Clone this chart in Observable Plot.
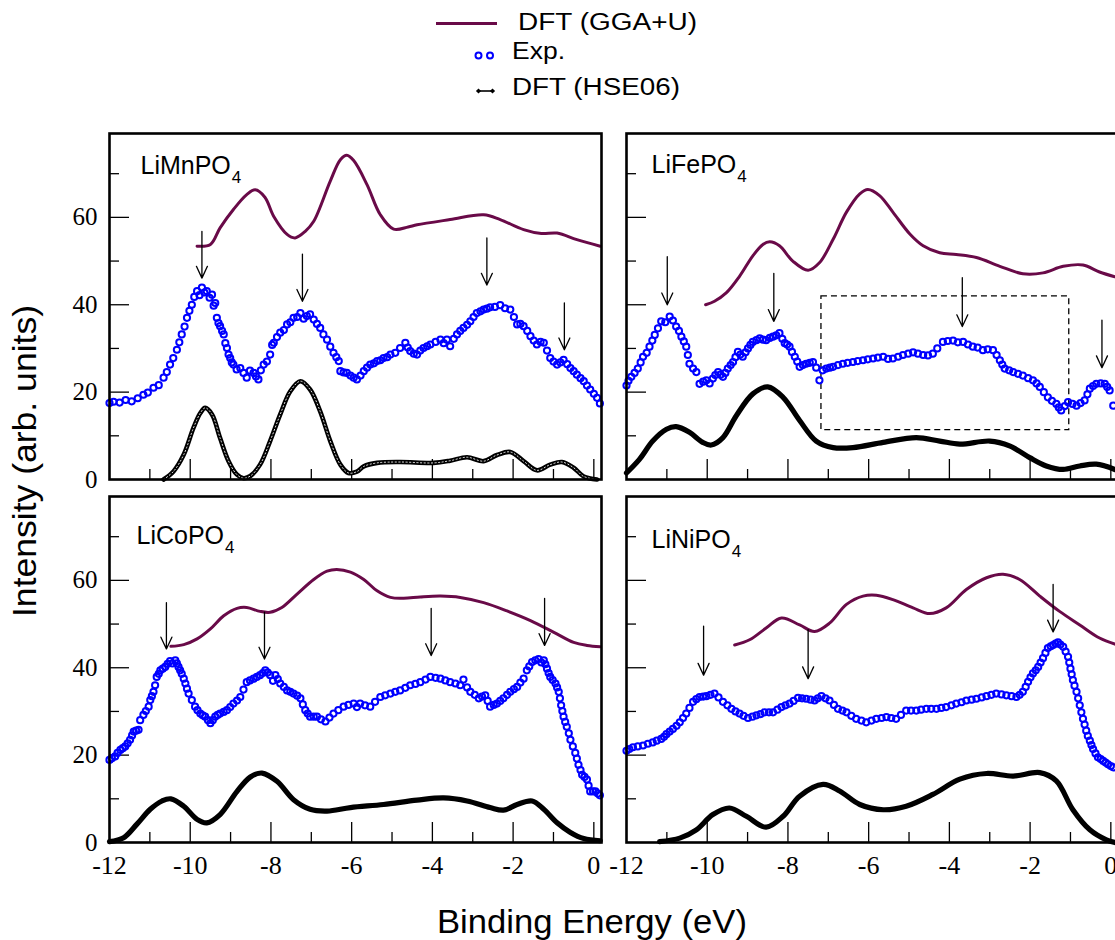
<!DOCTYPE html>
<html>
<head>
<meta charset="utf-8">
<script src="https://cdn.jsdelivr.net/npm/d3@7"></script>
<script src="https://cdn.jsdelivr.net/npm/@observablehq/plot@0.6"></script>
<style>
html, body { margin: 0; padding: 0; background: #fff; overflow: hidden; width: 1115px; height: 940px; }
#wrap { position: relative; width: 1115px; height: 940px; overflow: hidden; }
.panel { position: absolute; }
.panel svg { max-width: none !important; display: block; }
#overlay { position: absolute; left: 0; top: 0; pointer-events: none; }
</style>
</head>
<body>
<div id="wrap"></div>
<script>
// ---------------- data ----------------
const panelNames = ["LiMnPO4", "LiFePO4", "LiCoPO4", "LiNiPO4"];
const legendLabels = ["DFT (GGA+U)", "Exp.", "DFT (HSE06)"];
const xTitle = "Binding Energy (eV)";
const yTitle = "Intensity (arb. units)";

const energyDomain = [-12, 0.19];
const intensityDomain = [0, 79.2];
const majorEnergyTicks = [-12, -10, -8, -6, -4, -2, 0];
const minorEnergyTicks = [-11, -9, -7, -5, -3, -1];
const majorIntensityTicks = [0, 20, 40, 60];
const minorIntensityTicks = [10, 30, 50, 70];

// LiMnPO4
const mnGGA = [[-9.83,53.4],[-9.5,53.8],[-9.26,57.6],[-8.93,61.8],[-8.6,65.2],[-8.39,66.3],[-8.15,64.6],[-7.93,60.2],[-7.6,56.1],[-7.4,55.3],[-7.15,56.8],[-6.94,59.1],[-6.53,68.3],[-6.28,73.2],[-6.12,74.2],[-5.95,73.0],[-5.62,67.5],[-5.29,60.6],[-4.96,57.3],[-4.6,57.8],[-4.38,58.3],[-3.56,59.5],[-2.73,60.6],[-2.32,59.5],[-1.74,57.2],[-1.3,56.3],[-0.91,56.4],[-0.42,54.9],[0.16,53.4]];
const mnExp = [[-12.0,17.5],[-11.9,17.8],[-11.75,17.6],[-11.6,18.2],[-11.45,17.9],[-11.3,18.6],[-11.16,19.4],[-11.05,19.9],[-10.91,21.0],[-10.78,21.6],[-10.66,23.3],[-10.58,24.6],[-10.5,26.3],[-10.42,27.8],[-10.33,29.7],[-10.27,31.4],[-10.21,33.2],[-10.14,35.0],[-10.08,37.0],[-10.02,38.6],[-9.96,40.0],[-9.9,41.8],[-9.83,43.1],[-9.77,42.2],[-9.71,43.9],[-9.65,42.8],[-9.59,43.1],[-9.52,41.6],[-9.46,42.3],[-9.42,39.8],[-9.38,40.4],[-9.34,37.0],[-9.3,35.8],[-9.26,35.1],[-9.21,34.0],[-9.17,33.2],[-9.13,31.2],[-9.09,30.1],[-9.05,28.6],[-9.01,27.8],[-8.97,26.8],[-8.93,26.3],[-8.85,25.2],[-8.76,25.5],[-8.68,24.4],[-8.6,23.3],[-8.52,24.9],[-8.43,24.4],[-8.37,23.6],[-8.31,22.9],[-8.25,25.0],[-8.18,26.3],[-8.1,27.0],[-8.02,28.6],[-7.97,30.8],[-7.93,31.3],[-7.85,32.6],[-7.77,33.6],[-7.68,34.2],[-7.6,35.5],[-7.52,36.0],[-7.44,37.0],[-7.35,37.2],[-7.27,38.1],[-7.19,36.8],[-7.11,37.4],[-7.03,37.8],[-6.94,36.6],[-6.86,35.6],[-6.78,34.7],[-6.7,33.2],[-6.61,32.0],[-6.53,30.4],[-6.45,29.0],[-6.38,28.0],[-6.32,27.1],[-6.28,24.8],[-6.2,24.5],[-6.12,24.4],[-6.03,23.8],[-5.95,23.3],[-5.87,22.9],[-5.78,23.8],[-5.7,24.8],[-5.62,25.6],[-5.54,26.3],[-5.45,26.6],[-5.37,27.1],[-5.29,27.3],[-5.21,27.8],[-5.12,28.0],[-5.04,28.6],[-4.92,29.0],[-4.8,30.1],[-4.67,31.3],[-4.61,30.2],[-4.55,29.4],[-4.46,28.8],[-4.38,28.6],[-4.3,29.5],[-4.22,30.1],[-4.13,30.5],[-4.05,30.9],[-3.92,31.5],[-3.8,32.0],[-3.72,31.2],[-3.64,32.0],[-3.56,30.5],[-3.47,32.2],[-3.39,33.2],[-3.31,34.0],[-3.23,34.7],[-3.14,35.4],[-3.06,36.2],[-2.98,37.2],[-2.9,38.1],[-2.81,38.5],[-2.73,38.9],[-2.65,39.1],[-2.57,39.4],[-2.45,39.5],[-2.32,39.9],[-2.2,39.2],[-2.07,38.9],[-1.98,37.2],[-1.9,35.5],[-1.82,35.6],[-1.74,35.1],[-1.65,34.0],[-1.57,32.8],[-1.49,31.8],[-1.41,30.9],[-1.32,31.5],[-1.24,31.3],[-1.16,29.5],[-1.08,27.8],[-1.0,27.0],[-0.91,26.3],[-0.83,26.8],[-0.75,27.4],[-0.66,26.4],[-0.58,25.5],[-0.5,24.8],[-0.42,24.0],[-0.33,23.2],[-0.25,22.5],[-0.17,21.5],[-0.09,20.6],[0.0,19.6],[0.08,18.7],[0.15,17.4]];
const mnHSE = [[-10.66,0],[-10.41,1.9],[-10.16,5.7],[-9.92,11.8],[-9.75,15.2],[-9.63,16.4],[-9.46,14.9],[-9.26,9.5],[-9.05,4.2],[-8.84,1.1],[-8.68,0.3],[-8.51,0.8],[-8.27,3.4],[-8.02,8.8],[-7.77,14.9],[-7.52,20.2],[-7.27,22.5],[-7.03,20.6],[-6.78,15.6],[-6.53,8.8],[-6.28,3.4],[-6.08,1.5],[-5.87,1.8],[-5.7,3.0],[-5.37,3.8],[-4.8,4.0],[-3.97,3.8],[-3.56,4.3],[-3.14,5.1],[-2.73,4.2],[-2.4,5.6],[-2.07,6.3],[-1.74,4.2],[-1.41,2.1],[-1.08,3.4],[-0.79,4.0],[-0.5,2.7],[-0.25,0.7],[0.08,0]];
const mnArrows = [[-9.71,56.8,46.1],[-7.22,51.6,40.8],[-2.65,55.3,44.5],[-0.73,40.4,29.7]];

// LiFePO4
const feGGA = [[-10.04,40.0],[-9.82,40.8],[-9.53,42.7],[-9.2,46.5],[-8.87,51.2],[-8.62,53.8],[-8.45,54.4],[-8.21,53.5],[-7.88,50.0],[-7.5,47.9],[-7.22,49.6],[-6.88,55.0],[-6.55,61.2],[-6.22,65.4],[-6.02,66.4],[-5.73,65.0],[-5.4,61.2],[-4.98,56.2],[-4.65,53.5],[-4.24,51.9],[-3.83,51.5],[-3.33,50.8],[-2.75,48.8],[-2.18,47.1],[-1.68,47.3],[-1.18,48.8],[-0.69,49.1],[-0.28,47.5],[0.1,46.4]];
const feExp = [[-12.0,21.5],[-11.95,22.6],[-11.88,23.5],[-11.8,24.4],[-11.72,25.4],[-11.65,26.8],[-11.59,28.1],[-11.5,29.0],[-11.43,30.4],[-11.36,31.8],[-11.3,33.1],[-11.22,34.6],[-11.14,36.2],[-11.04,36.0],[-10.93,37.3],[-10.85,36.4],[-10.77,35.0],[-10.7,34.0],[-10.64,32.7],[-10.58,31.6],[-10.52,30.4],[-10.48,28.5],[-10.44,26.5],[-10.35,25.4],[-10.27,24.6],[-10.19,21.9],[-10.1,22.4],[-10.02,22.7],[-9.94,22.0],[-9.86,23.1],[-9.8,23.9],[-9.73,24.6],[-9.67,24.0],[-9.61,23.5],[-9.55,24.4],[-9.49,25.4],[-9.42,26.2],[-9.36,26.9],[-9.3,28.0],[-9.24,29.2],[-9.18,28.6],[-9.12,28.1],[-9.05,29.1],[-8.99,30.0],[-8.93,30.8],[-8.87,31.5],[-8.78,31.9],[-8.7,32.3],[-8.62,32.0],[-8.54,31.9],[-8.45,32.4],[-8.37,32.7],[-8.29,33.0],[-8.21,33.5],[-8.14,32.2],[-8.08,31.2],[-8.02,30.9],[-7.96,30.4],[-7.9,29.2],[-7.83,28.1],[-7.77,27.0],[-7.71,25.8],[-7.63,26.2],[-7.55,26.5],[-7.46,26.7],[-7.38,26.9],[-7.3,25.6],[-7.22,22.7],[-7.14,25.0],[-7.05,25.4],[-6.96,25.6],[-6.88,25.8],[-6.76,26.2],[-6.64,26.5],[-6.52,26.7],[-6.39,26.9],[-6.27,27.1],[-6.14,27.3],[-6.02,27.5],[-5.89,27.7],[-5.77,27.9],[-5.64,28.1],[-5.52,27.6],[-5.4,27.7],[-5.27,28.1],[-5.15,28.5],[-5.02,28.8],[-4.9,29.1],[-4.78,28.8],[-4.65,28.5],[-4.53,28.4],[-4.41,28.8],[-4.3,30.0],[-4.16,31.5],[-4.04,31.7],[-3.91,31.8],[-3.79,31.4],[-3.66,31.5],[-3.54,30.9],[-3.42,30.4],[-3.3,30.2],[-3.17,29.6],[-3.05,29.8],[-2.92,29.6],[-2.83,28.5],[-2.75,27.3],[-2.69,26.3],[-2.63,25.4],[-2.52,25.0],[-2.42,24.6],[-2.3,24.2],[-2.18,23.8],[-2.05,23.2],[-1.93,22.7],[-1.84,22.0],[-1.76,21.2],[-1.66,20.0],[-1.56,18.8],[-1.46,18.0],[-1.35,17.3],[-1.29,16.5],[-1.23,15.8],[-1.14,16.8],[-1.06,17.7],[-0.95,17.3],[-0.85,16.9],[-0.75,17.5],[-0.65,18.1],[-0.58,19.5],[-0.52,20.8],[-0.44,21.4],[-0.36,21.9],[-0.25,22.0],[-0.15,21.9],[-0.09,21.2],[-0.03,20.4],[0.06,16.9]];
const feHSE = [[-12.0,1.5],[-11.68,4.6],[-11.35,8.8],[-11.01,11.5],[-10.77,12.1],[-10.44,10.8],[-10.11,8.5],[-9.9,7.9],[-9.61,9.6],[-9.28,14.6],[-8.87,19.6],[-8.5,21.2],[-8.12,18.8],[-7.71,13.5],[-7.3,8.8],[-6.88,7.3],[-6.39,7.3],[-5.64,8.5],[-4.82,9.6],[-4.24,8.8],[-3.74,8.1],[-3.0,8.8],[-2.51,7.7],[-2.01,5.0],[-1.6,3.1],[-1.18,2.3],[-0.77,3.1],[-0.36,3.5],[0.1,2.3]];
const feArrows = [[-10.99,51.0,40.0],[-8.35,47.2,36.2],[-3.68,46.2,35.0],[-0.22,36.5,25.6]];
const feBox = [-7.17, -1.03, 11.3, 41.9];

// LiCoPO4
const coGGA = [[-10.48,44.9],[-10.16,45.3],[-9.83,46.6],[-9.5,48.9],[-9.17,51.9],[-8.84,53.6],[-8.6,53.8],[-8.27,52.9],[-8.02,52.7],[-7.73,53.8],[-7.36,56.8],[-6.94,60.2],[-6.61,62.1],[-6.37,62.5],[-6.03,61.9],[-5.7,60.2],[-5.37,57.6],[-5.04,56.1],[-4.71,55.9],[-4.3,56.2],[-3.8,56.4],[-3.31,56.1],[-2.73,54.9],[-2.15,53.0],[-1.57,50.8],[-0.99,48.1],[-0.5,45.8],[-0.17,45.1],[0.16,44.8]];
const coExp = [[-12.0,18.9],[-11.94,19.3],[-11.86,19.7],[-11.8,20.5],[-11.73,21.2],[-11.67,21.6],[-11.61,22.0],[-11.55,22.7],[-11.49,23.5],[-11.44,24.5],[-11.4,25.4],[-11.34,25.6],[-11.28,25.8],[-11.24,28.0],[-11.16,29.2],[-11.1,30.1],[-11.03,31.1],[-10.99,32.6],[-10.95,33.5],[-10.91,34.5],[-10.87,36.0],[-10.83,37.9],[-10.78,38.6],[-10.74,39.4],[-10.68,39.8],[-10.62,40.2],[-10.56,40.9],[-10.5,41.5],[-10.44,41.0],[-10.37,41.7],[-10.33,41.0],[-10.29,40.2],[-10.25,39.4],[-10.21,38.6],[-10.16,37.5],[-10.12,36.4],[-10.08,35.2],[-10.04,34.1],[-9.96,32.6],[-9.88,31.1],[-9.82,30.3],[-9.75,29.5],[-9.69,29.1],[-9.63,28.8],[-9.56,28.0],[-9.5,27.3],[-9.44,28.0],[-9.38,28.8],[-9.32,29.2],[-9.26,29.5],[-9.17,29.9],[-9.09,30.3],[-9.01,31.0],[-8.93,31.8],[-8.84,32.5],[-8.76,33.3],[-8.68,35.0],[-8.6,36.7],[-8.52,37.1],[-8.43,37.5],[-8.35,37.9],[-8.27,38.3],[-8.2,38.8],[-8.14,39.4],[-8.08,38.9],[-8.02,38.3],[-7.95,37.0],[-7.89,38.3],[-7.83,37.4],[-7.77,36.4],[-7.68,35.6],[-7.6,34.8],[-7.52,34.5],[-7.44,34.1],[-7.35,33.6],[-7.27,33.0],[-7.21,31.6],[-7.15,30.3],[-7.09,29.5],[-7.03,28.8],[-6.94,28.8],[-6.86,28.8],[-6.76,28.2],[-6.65,27.7],[-6.55,28.6],[-6.45,29.5],[-6.33,30.3],[-6.2,31.1],[-6.08,31.5],[-5.95,31.8],[-5.87,31.0],[-5.79,31.8],[-5.67,31.4],[-5.54,31.1],[-5.42,32.2],[-5.29,33.3],[-5.17,33.7],[-5.04,34.1],[-4.92,34.5],[-4.8,34.8],[-4.67,35.4],[-4.55,36.0],[-4.42,36.3],[-4.3,36.7],[-4.17,37.3],[-4.05,37.9],[-3.92,37.7],[-3.8,37.5],[-3.68,37.1],[-3.56,36.7],[-3.43,36.4],[-3.31,36.0],[-3.23,37.3],[-3.14,35.5],[-3.06,34.5],[-2.95,33.8],[-2.85,33.0],[-2.77,33.4],[-2.69,33.7],[-2.63,32.4],[-2.57,31.1],[-2.48,31.5],[-2.4,31.8],[-2.32,32.4],[-2.24,33.0],[-2.15,33.8],[-2.07,34.5],[-1.98,35.1],[-1.9,35.6],[-1.82,36.6],[-1.74,37.5],[-1.66,39.4],[-1.6,40.3],[-1.53,41.3],[-1.45,41.7],[-1.37,42.0],[-1.3,41.2],[-1.24,41.7],[-1.2,40.8],[-1.16,39.8],[-1.12,38.8],[-1.08,37.9],[-1.02,37.2],[-0.95,36.4],[-0.91,35.5],[-0.87,34.5],[-0.84,33.0],[-0.81,31.4],[-0.78,30.1],[-0.75,28.8],[-0.71,27.6],[-0.67,26.5],[-0.62,25.0],[-0.58,23.5],[-0.52,22.0],[-0.46,20.5],[-0.42,19.2],[-0.38,17.8],[-0.33,16.6],[-0.29,15.5],[-0.23,15.0],[-0.17,14.4],[-0.13,13.0],[-0.09,11.7],[-0.02,11.7],[0.04,11.7],[0.1,11.2],[0.15,10.8]];
const coHSE = [[-12.0,0.2],[-11.65,1.1],[-11.32,4.2],[-10.99,7.6],[-10.7,9.5],[-10.48,10.0],[-10.16,8.3],[-9.83,5.3],[-9.59,4.5],[-9.26,6.4],[-8.84,11.7],[-8.51,15.0],[-8.22,15.9],[-7.85,14.0],[-7.44,9.8],[-7.03,7.6],[-6.61,7.2],[-6.03,8.0],[-5.21,8.7],[-4.38,9.7],[-3.72,10.2],[-3.14,9.5],[-2.57,8.0],[-2.24,7.4],[-1.9,8.7],[-1.53,9.5],[-1.24,7.6],[-0.91,4.5],[-0.58,2.3],[-0.25,0.9],[0.16,0.4]];
const coArrows = [[-10.59,54.9,44.3],[-8.16,52.7,42.0],[-4.03,53.6,42.8],[-1.22,55.9,45.1]];

// LiNiPO4
const niGGA = [[-9.32,45.2],[-8.95,46.4],[-8.54,49.1],[-8.16,51.4],[-7.71,49.8],[-7.34,48.3],[-6.97,50.2],[-6.55,54.5],[-6.14,56.4],[-5.81,56.6],[-5.4,55.6],[-4.9,53.7],[-4.49,52.4],[-4.08,53.7],[-3.58,57.9],[-3.08,60.6],[-2.67,61.4],[-2.26,60.2],[-1.76,56.4],[-1.27,52.9],[-0.77,49.8],[-0.28,46.8],[0.1,45.4]];
const niExp = [[-12.0,21.0],[-11.93,21.4],[-11.84,21.8],[-11.72,22.0],[-11.59,22.2],[-11.47,22.6],[-11.35,22.9],[-11.25,23.3],[-11.14,23.7],[-11.07,24.2],[-11.01,24.8],[-10.93,25.4],[-10.85,26.0],[-10.76,26.7],[-10.68,27.5],[-10.6,28.5],[-10.52,29.5],[-10.44,30.8],[-10.35,32.2],[-10.27,32.8],[-10.19,33.3],[-10.1,33.4],[-10.02,33.5],[-9.92,33.8],[-9.82,34.1],[-9.72,33.2],[-9.61,32.2],[-9.5,31.4],[-9.4,30.6],[-9.3,30.0],[-9.2,29.5],[-9.1,29.0],[-8.99,28.5],[-8.88,28.8],[-8.78,29.1],[-8.68,29.4],[-8.58,29.8],[-8.47,29.8],[-8.37,29.8],[-8.26,30.4],[-8.16,31.0],[-8.06,31.4],[-7.96,31.8],[-7.86,32.4],[-7.75,33.1],[-7.65,33.0],[-7.55,32.9],[-7.44,32.7],[-7.34,32.5],[-7.26,33.0],[-7.17,33.5],[-7.07,33.0],[-6.97,32.5],[-6.86,31.5],[-6.76,30.6],[-6.65,30.2],[-6.55,29.8],[-6.43,29.0],[-6.31,28.3],[-6.18,27.9],[-6.06,27.5],[-5.93,27.9],[-5.81,28.3],[-5.68,28.5],[-5.56,28.7],[-5.44,28.5],[-5.32,28.3],[-5.2,29.2],[-5.07,30.2],[-4.95,30.2],[-4.82,30.2],[-4.7,30.4],[-4.57,30.6],[-4.45,30.6],[-4.32,30.6],[-4.2,30.8],[-4.08,31.0],[-3.95,31.4],[-3.83,31.8],[-3.7,32.1],[-3.58,32.5],[-3.45,32.7],[-3.33,32.9],[-3.2,33.2],[-3.08,33.5],[-2.96,33.8],[-2.84,34.1],[-2.71,33.9],[-2.59,33.7],[-2.46,33.5],[-2.34,33.3],[-2.26,33.8],[-2.18,34.5],[-2.11,35.6],[-2.05,36.8],[-1.99,37.8],[-1.93,38.7],[-1.86,39.4],[-1.8,40.2],[-1.74,41.2],[-1.68,42.2],[-1.62,43.4],[-1.56,44.5],[-1.49,44.9],[-1.43,45.2],[-1.37,45.5],[-1.31,45.8],[-1.25,45.3],[-1.18,44.8],[-1.12,43.7],[-1.06,42.5],[-1.03,41.2],[-1.0,39.8],[-0.97,38.5],[-0.94,37.2],[-0.9,35.9],[-0.85,34.5],[-0.81,33.0],[-0.77,31.4],[-0.73,29.8],[-0.69,28.3],[-0.65,27.0],[-0.61,25.6],[-0.57,24.4],[-0.52,23.3],[-0.48,22.3],[-0.44,21.4],[-0.38,20.4],[-0.32,19.5],[-0.25,19.1],[-0.19,18.7],[-0.13,18.3],[-0.07,17.9],[0.0,17.5],[0.06,17.2]];
const niHSE = [[-11.18,0.2],[-10.68,1.0],[-10.27,2.9],[-9.86,6.4],[-9.45,7.9],[-9.03,6.0],[-8.54,3.5],[-8.12,6.0],[-7.71,10.6],[-7.13,13.3],[-6.72,11.8],[-6.22,8.7],[-5.64,7.5],[-5.07,8.3],[-4.41,11.0],[-3.74,14.5],[-3.08,15.8],[-2.42,15.2],[-1.76,16.0],[-1.35,14.1],[-0.94,7.5],[-0.52,2.9],[-0.11,0.6],[0.1,0]];
const niArrows = [[-10.09,49.5,38.3],[-7.5,48.7,37.5],[-1.43,59.1,48.2]];

// ---------------- styles ----------------
const ggaColor = "#690a48";
const expColor = "#0000ff";
const hseColor = "#000000";

// ---------------- layout ----------------
const W = 492, H = 346;
const panels = [
  {name: panelNames[0], gga: mnGGA, exp: mnExp, hse: mnHSE, arrows: mnArrows, box: null, col: 0, row: 0, left: 109, top: 133, ldx: 31, ldy: 22.5, dotted: true},
  {name: panelNames[1], gga: feGGA, exp: feExp, hse: feHSE, arrows: feArrows, box: feBox, col: 1, row: 0, left: 626, top: 133, ldx: 25, ldy: 22, dotted: false},
  {name: panelNames[2], gga: coGGA, exp: coExp, hse: coHSE, arrows: coArrows, box: null, col: 0, row: 1, left: 109, top: 496, ldx: 27, ldy: 30, dotted: false},
  {name: panelNames[3], gga: niGGA, exp: niExp, hse: niHSE, arrows: niArrows, box: null, col: 1, row: 1, left: 626, top: 496, ldx: 25, ldy: 33.5, dotted: false}
];

const wrap = document.getElementById("wrap");
const X = d => d[0], Y = d => d[1];

for (const p of panels) {
  const ml = p.col === 0 ? 60 : 20, mr = 14, mt = 6, mb = p.row === 1 ? 45 : 6;
  const marks = [
    Plot.ruleX(minorEnergyTicks, {stroke: "#000", strokeWidth: 1.3, insetTop: H - 10}),
    Plot.ruleX(majorEnergyTicks.filter(d => d > -12), {stroke: "#000", strokeWidth: 1.3, insetTop: H - 20}),
    Plot.ruleY(minorIntensityTicks, {stroke: "#000", strokeWidth: 1.3, insetRight: W - 10}),
    Plot.ruleY(majorIntensityTicks.filter(d => d > 0), {stroke: "#000", strokeWidth: 1.3, insetRight: W - 20})
  ];
  if (p.box) {
    marks.push(Plot.rect([p.box], {x1: d => d[0], x2: d => d[1], y1: d => d[2], y2: d => d[3], fill: "none", stroke: "#000", strokeWidth: 1.3, strokeDasharray: "6,4"}));
  }
  marks.push(Plot.line(p.gga, {x: X, y: Y, stroke: ggaColor, strokeWidth: 3, curve: "catmull-rom"}));
  marks.push(Plot.line(p.hse, {x: X, y: Y, stroke: hseColor, strokeWidth: p.dotted ? 4.6 : 5.2, curve: "catmull-rom"}));
  if (p.dotted) {
    marks.push(Plot.line(p.hse, {x: X, y: Y, stroke: "#fff", strokeWidth: 0.9, strokeDasharray: "1.2,2.4", curve: "catmull-rom"}));
  }
  marks.push(Plot.dot(p.exp, {x: X, y: Y, r: 3.1, stroke: expColor, strokeWidth: 2, fill: "none"}));
  marks.push(Plot.arrow(p.arrows, {x1: d => d[0], x2: d => d[0], y1: d => d[1], y2: d => d[2], stroke: "#000", strokeWidth: 1.3, headLength: 15, headAngle: 50}));
  marks.push(Plot.frame({stroke: "#000", strokeWidth: 2.6}));
  marks.push(Plot.text([p.name], {frameAnchor: "top-left", dx: p.ldx, dy: p.ldy, lineAnchor: "top", textAnchor: "start", fontSize: 25, fontFamily: "Liberation Sans, Arial, sans-serif", fill: "#000"}));
  marks.push(Plot.axisX({ticks: p.row === 1 ? majorEnergyTicks : [], tickSize: 0, tickPadding: 13, tickFormat: d => String(d), fontSize: 26, fontFamily: "Liberation Serif, Times New Roman, serif", label: null}));
  marks.push(Plot.axisY({ticks: p.col === 0 ? majorIntensityTicks : [], tickSize: 0, tickPadding: 12, tickFormat: d => String(d), fontSize: 25, fontFamily: "Liberation Serif, Times New Roman, serif", label: null}));

  const svg = Plot.plot({
    width: ml + W + mr,
    height: mt + H + mb,
    marginLeft: ml, marginRight: mr, marginTop: mt, marginBottom: mb,
    x: {domain: energyDomain},
    y: {domain: intensityDomain},
    style: {background: "transparent", maxWidth: "none", overflow: "visible", color: "#000"},
    marks
  });

  // subscript for the formula digit
  const t = Array.from(svg.querySelectorAll("text")).find(e => e.textContent === p.name);
  if (t) {
    t.textContent = p.name.slice(0, -1);
    const ts = document.createElementNS("http://www.w3.org/2000/svg", "tspan");
    ts.setAttribute("font-size", "17");
    ts.setAttribute("dy", "9");
    ts.setAttribute("dx", "1");
    ts.textContent = p.name.slice(-1);
    t.appendChild(ts);
  }

  const div = document.createElement("div");
  div.className = "panel";
  div.style.left = (p.left - ml) + "px";
  div.style.top = (p.top - mt) + "px";
  div.style.width = (ml + W + mr) + "px";
  div.appendChild(svg);
  wrap.appendChild(div);
}

// ---------------- legend and axis titles ----------------
const ov = d3.select(wrap).append("svg").attr("id", "overlay")
  .attr("width", 1115).attr("height", 940)
  .style("font-family", "Liberation Sans, Arial, sans-serif");

ov.append("line").attr("x1", 436).attr("x2", 497).attr("y1", 23.5).attr("y2", 23.5)
  .attr("stroke", ggaColor).attr("stroke-width", 3);
ov.append("text").attr("x", 518).attr("y", 29.5).attr("font-size", 23)
  .attr("textLength", 179).attr("lengthAdjust", "spacingAndGlyphs").text(legendLabels[0]);

for (const cx of [478.5, 490]) {
  ov.append("circle").attr("cx", cx).attr("cy", 55.5).attr("r", 3)
    .attr("fill", "none").attr("stroke", expColor).attr("stroke-width", 2);
}
ov.append("text").attr("x", 512).attr("y", 59).attr("font-size", 23)
  .attr("textLength", 53).attr("lengthAdjust", "spacingAndGlyphs").text(legendLabels[1]);

ov.append("line").attr("x1", 478).attr("x2", 493).attr("y1", 91).attr("y2", 91)
  .attr("stroke", "#000").attr("stroke-width", 1.6);
for (const cx of [478.5, 492.5]) {
  ov.append("path").attr("d", `M${cx - 2.6},91L${cx},88.4L${cx + 2.6},91L${cx},93.6Z`).attr("fill", "#000");
}
ov.append("text").attr("x", 512).attr("y", 94.5).attr("font-size", 23)
  .attr("textLength", 168).attr("lengthAdjust", "spacingAndGlyphs").text(legendLabels[2]);

ov.append("text").attr("x", 592).attr("y", 933).attr("font-size", 33).attr("text-anchor", "middle")
  .attr("textLength", 310).attr("lengthAdjust", "spacingAndGlyphs").text(xTitle);
ov.append("text").attr("transform", "translate(36,461) rotate(-90)").attr("font-size", 33).attr("text-anchor", "middle")
  .attr("textLength", 312).attr("lengthAdjust", "spacingAndGlyphs").text(yTitle);
</script>
</body>
</html>
